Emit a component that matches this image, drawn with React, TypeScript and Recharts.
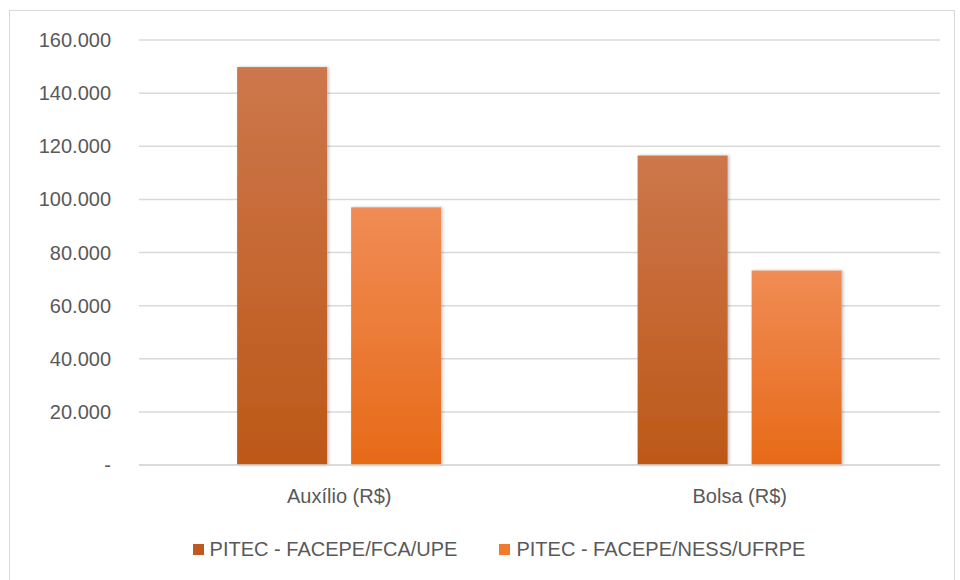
import React from 'react';
import { BarChart, Bar, XAxis, YAxis, CartesianGrid } from 'recharts';

const categories = ['Auxílio (R$)', 'Bolsa (R$)'];
const fcaUpe = [149800, 116500];
const nessUfrpe = [97000, 73200];
const yTicks = [0, 20000, 40000, 60000, 80000, 100000, 120000, 140000, 160000];
const seriesNames = ['PITEC - FACEPE/FCA/UPE', 'PITEC - FACEPE/NESS/UFRPE'];

const chartData = categories.map((c, i) => ({
  category: c,
  fca: fcaUpe[i],
  ness: nessUfrpe[i],
}));

const FONT = '"Liberation Sans", Arial, sans-serif';
const TEXT = '#595959';

const formatTick = (v: number) => (v === 0 ? '-' : v.toLocaleString('de-DE'));

const ShadowBar = (props: any) => {
  const { x, y, width, height, fill } = props;
  if (!height || height <= 0) return null;
  return <rect x={x} y={y} width={width} height={height} fill={fill} filter="url(#barShadow)" />;
};

const LegendBox = () => (
  <div
    style={{
      position: 'absolute',
      top: 538,
      left: 38,
      width: 922,
      display: 'flex',
      justifyContent: 'center',
      gap: 42,
      fontFamily: FONT,
      fontSize: 20,
      color: TEXT,
    }}
  >
    {seriesNames.map((n, i) => (
      <div key={n} style={{ display: 'flex', alignItems: 'center' }}>
        <span
          style={{
            display: 'inline-block',
            width: 11,
            height: 11,
            background: i === 0 ? '#C0591E' : '#F07B2E',
            marginRight: 6,
          }}
        />
        {n}
      </div>
    ))}
  </div>
);

const App: React.FC = () => {
  return (
    <div style={{ position: 'absolute', left: 0, top: 0, width: 960, height: 580, background: '#fff' }}>
      <div
        style={{
          position: 'absolute',
          left: 9,
          top: 10,
          width: 946,
          height: 572,
          border: '1.5px solid #D9D9D9',
          boxSizing: 'border-box',
        }}
      />
      <BarChart
        width={960}
        height={580}
        data={chartData}
        margin={{ top: 40, right: 20, left: 0, bottom: 85 }}
        barCategoryGap="24.5%"
        barGap={24}
      >
        <defs>
          <linearGradient id="gradFca" x1="0" y1="0" x2="0" y2="1">
            <stop offset="0%" stopColor="#CD774C" />
            <stop offset="100%" stopColor="#BD5818" />
          </linearGradient>
          <linearGradient id="gradNess" x1="0" y1="0" x2="0" y2="1">
            <stop offset="0%" stopColor="#F08C55" />
            <stop offset="100%" stopColor="#E76A18" />
          </linearGradient>
          <filter id="barShadow" x="-10%" y="-10%" width="130%" height="120%">
            <feDropShadow dx="1.5" dy="0" stdDeviation="1.5" floodColor="#000" floodOpacity="0.25" />
          </filter>
        </defs>
        <CartesianGrid vertical={false} stroke="#D9D9D9" strokeWidth={1.5} />
        <XAxis
          dataKey="category"
          height={30}
          axisLine={{ stroke: '#D9D9D9', strokeWidth: 1.5 }}
          tickLine={false}
          tickSize={0}
          tickMargin={24}
          tick={{ fill: TEXT, fontSize: 20, fontFamily: FONT }}
        />
        <YAxis
          width={139}
          domain={[0, 160000]}
          ticks={yTicks}
          tickFormatter={formatTick}
          axisLine={false}
          tickLine={false}
          tickSize={0}
          tickMargin={28}
          interval={0}
          tick={{ fill: TEXT, fontSize: 20, fontFamily: FONT }}
        />
        <Bar dataKey="fca" name={seriesNames[0]} fill="url(#gradFca)" shape={ShadowBar} isAnimationActive={false} />
        <Bar dataKey="ness" name={seriesNames[1]} fill="url(#gradNess)" shape={ShadowBar} isAnimationActive={false} />
      </BarChart>
      <LegendBox />
    </div>
  );
};

export default App;
